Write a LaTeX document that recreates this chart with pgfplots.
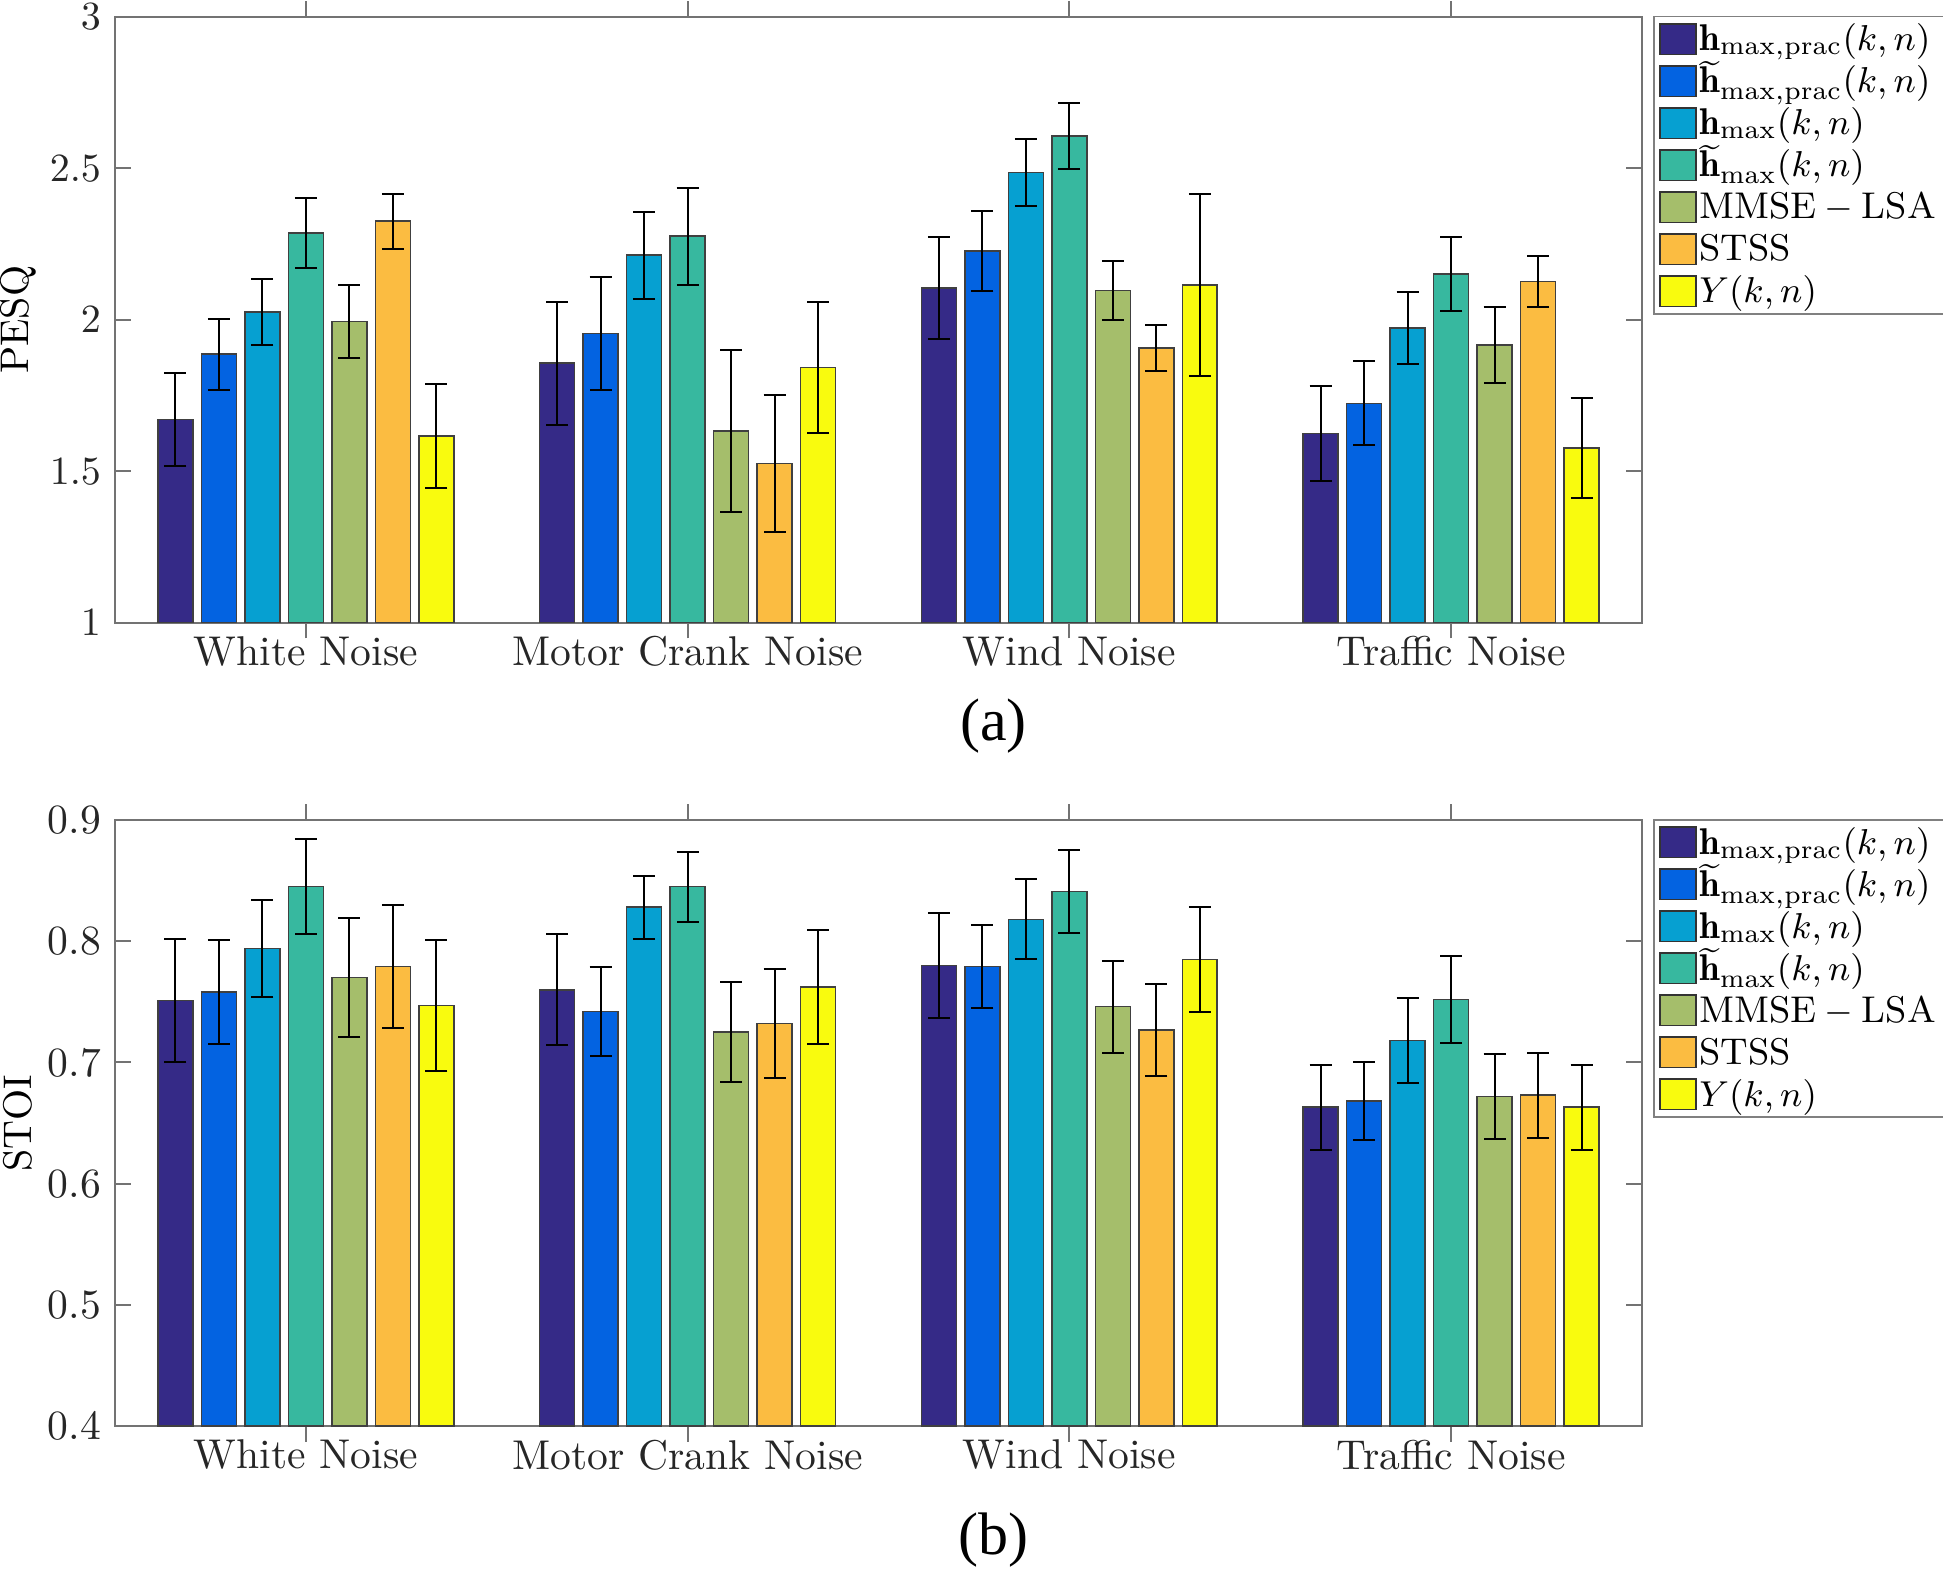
\documentclass[border=0pt]{standalone}
\usepackage{amsmath}
\usepackage{fontspec}
\usepackage{pgfplots}
\usepackage{pgfplotstable}
\pgfplotsset{compat=1.18}
\newfontfamily\timesfont{Liberation Serif}

% parula colours
\definecolor{c1}{rgb}{0.2081,0.1663,0.5292}
\definecolor{c2}{rgb}{0.0116,0.3875,0.8820}
\definecolor{c3}{rgb}{0.0244,0.6287,0.8178}
\definecolor{c4}{rgb}{0.2161,0.7231,0.6216}
\definecolor{c5}{rgb}{0.6473,0.7456,0.4188}
\definecolor{c6}{rgb}{0.9856,0.7372,0.2537}
\definecolor{c7}{rgb}{0.9763,0.9831,0.0538}

% bold h with a tilde sitting a bit lower than \widetilde puts it
\newcommand{\wth}{\ooalign{$\mathbf{h}$\cr\raisebox{-1.3pt}{$\widetilde{\phantom{\mathbf{h}}}$}\cr}}

% PESQ: mean and error of the 7 methods for each noise
\pgfplotstableread{
x v1    e1    v2    e2    v3    e3    v4    e4    v5    e5    v6    e6    v7    e7
1 1.671 0.154 1.886 0.117 2.025 0.109 2.286 0.115 1.994 0.120 2.325 0.090 1.616 0.172
2 1.857 0.203 1.954 0.186 2.213 0.143 2.276 0.160 1.633 0.267 1.526 0.227 1.842 0.217
3 2.104 0.168 2.227 0.133 2.486 0.110 2.606 0.108 2.096 0.098 1.907 0.076 2.114 0.300
4 1.625 0.157 1.724 0.139 1.972 0.118 2.151 0.122 1.917 0.125 2.126 0.084 1.576 0.166
}\pesq

% STOI
\pgfplotstableread{
x v1    e1    v2    e2    v3    e3    v4    e4    v5    e5    v6    e6    v7    e7
1 0.751 0.051 0.758 0.043 0.794 0.040 0.845 0.039 0.770 0.049 0.779 0.051 0.747 0.054
2 0.760 0.046 0.742 0.037 0.828 0.026 0.845 0.029 0.725 0.041 0.732 0.045 0.762 0.047
3 0.780 0.043 0.779 0.034 0.818 0.033 0.841 0.034 0.746 0.038 0.727 0.038 0.785 0.043
4 0.663 0.035 0.668 0.032 0.718 0.035 0.752 0.036 0.672 0.035 0.673 0.035 0.663 0.035
}\stoi

\pgfplotsset{
  mybars/.style={
    scale only axis, width=381.75pt, height=151.5pt,
    anchor=south west,
    xmin=0.5, xmax=4.5,
    xtick={1,2,3,4},
    xticklabels={White Noise, Motor Crank Noise, Wind Noise, Traffic Noise},
    tick align=inside, major tick length=3.9pt,
    axis line style={black!55, line width=0.5pt},
    every tick/.style={black!55, line width=0.5pt},
    tick label style={font=\fontsize{10.4}{12}\selectfont, black!85},
    xticklabel style={yshift=4pt},
    label style={font=\fontsize{10.2}{12}\selectfont},
    every axis y label/.style={at={(axis description cs:-0.0635,0.5)}, rotate=90, anchor=center},
    ybar, bar width=0.0916,
    legend image code/.code={\draw[#1, draw=black!80, line width=0.4pt] (0pt,-3.8pt) rectangle (9pt,3.8pt);},
    legend cell align=left,
    legend style={at={(1,1)}, anchor=north west, xshift=2.75pt, yshift=0.25pt,
      draw=black!50, fill=white, line width=0.4pt,
      font=\fontsize{9.3}{11}\selectfont, inner xsep=1.4pt, inner ysep=0.4pt, row sep=0pt,
      nodes={inner sep=0.15pt, inner xsep=0.6pt, text height=8.0pt, text depth=2.2pt}},
  },
  series/.style={fill=#1, draw=black!75, line width=0.4pt,
    /pgfplots/error bars/y dir=both, /pgfplots/error bars/y explicit,
    /pgfplots/error bars/error bar style={black, line width=0.5pt},
    /pgfplots/error bars/error mark options={rotate=90, black, line width=0.5pt, mark size=2.75pt}},
}

\newcommand{\legendentries}{\legend{{$\mathbf{h}_{\max,\mathrm{prac}}(k,n)$},
  {$\wth_{\max,\mathrm{prac}}(k,n)$},
  {$\mathbf{h}_{\max}(k,n)$},
  {$\wth_{\max}(k,n)$},
  {$\mathrm{MMSE-LSA}$},
  {$\mathrm{STSS}$},
  {$Y(k,n)$}}}

\begin{document}
\begin{tikzpicture}
\begin{axis}[mybars, at={(28.75pt,-155.675pt)},
    ymin=1, ymax=3, ytick={1,1.5,2,2.5,3}, ylabel={PESQ}]
\pgfplotsinvokeforeach{1,...,7}{
  \addplot[bar shift={(#1-4)*0.1139}, series=c#1]
    table[x=x, y=v#1, y error=e#1] {\pesq};
}
\legendentries
\end{axis}

\begin{axis}[mybars, at={(28.75pt,-356.5pt)},
    ymin=0.4, ymax=0.9, ytick={0.4,0.5,0.6,0.7,0.8,0.9},
    yticklabels={0.4,0.5,0.6,0.7,0.8,0.9}, ylabel={STOI}]
\pgfplotsinvokeforeach{1,...,7}{
  \addplot[bar shift={(#1-4)*0.1139}, series=c#1]
    table[x=x, y=v#1, y error=e#1] {\stoi};
}
\legendentries
\end{axis}

\node[font=\timesfont\fontsize{15}{18}\selectfont, anchor=base] at (248.4pt,-185pt) {(a)};
\node[font=\timesfont\fontsize{15}{18}\selectfont, anchor=base] at (248.4pt,-388.5pt) {(b)};

\pgfresetboundingbox
\path (0,0) rectangle (485.75pt,-392pt);
\end{tikzpicture}
\end{document}
